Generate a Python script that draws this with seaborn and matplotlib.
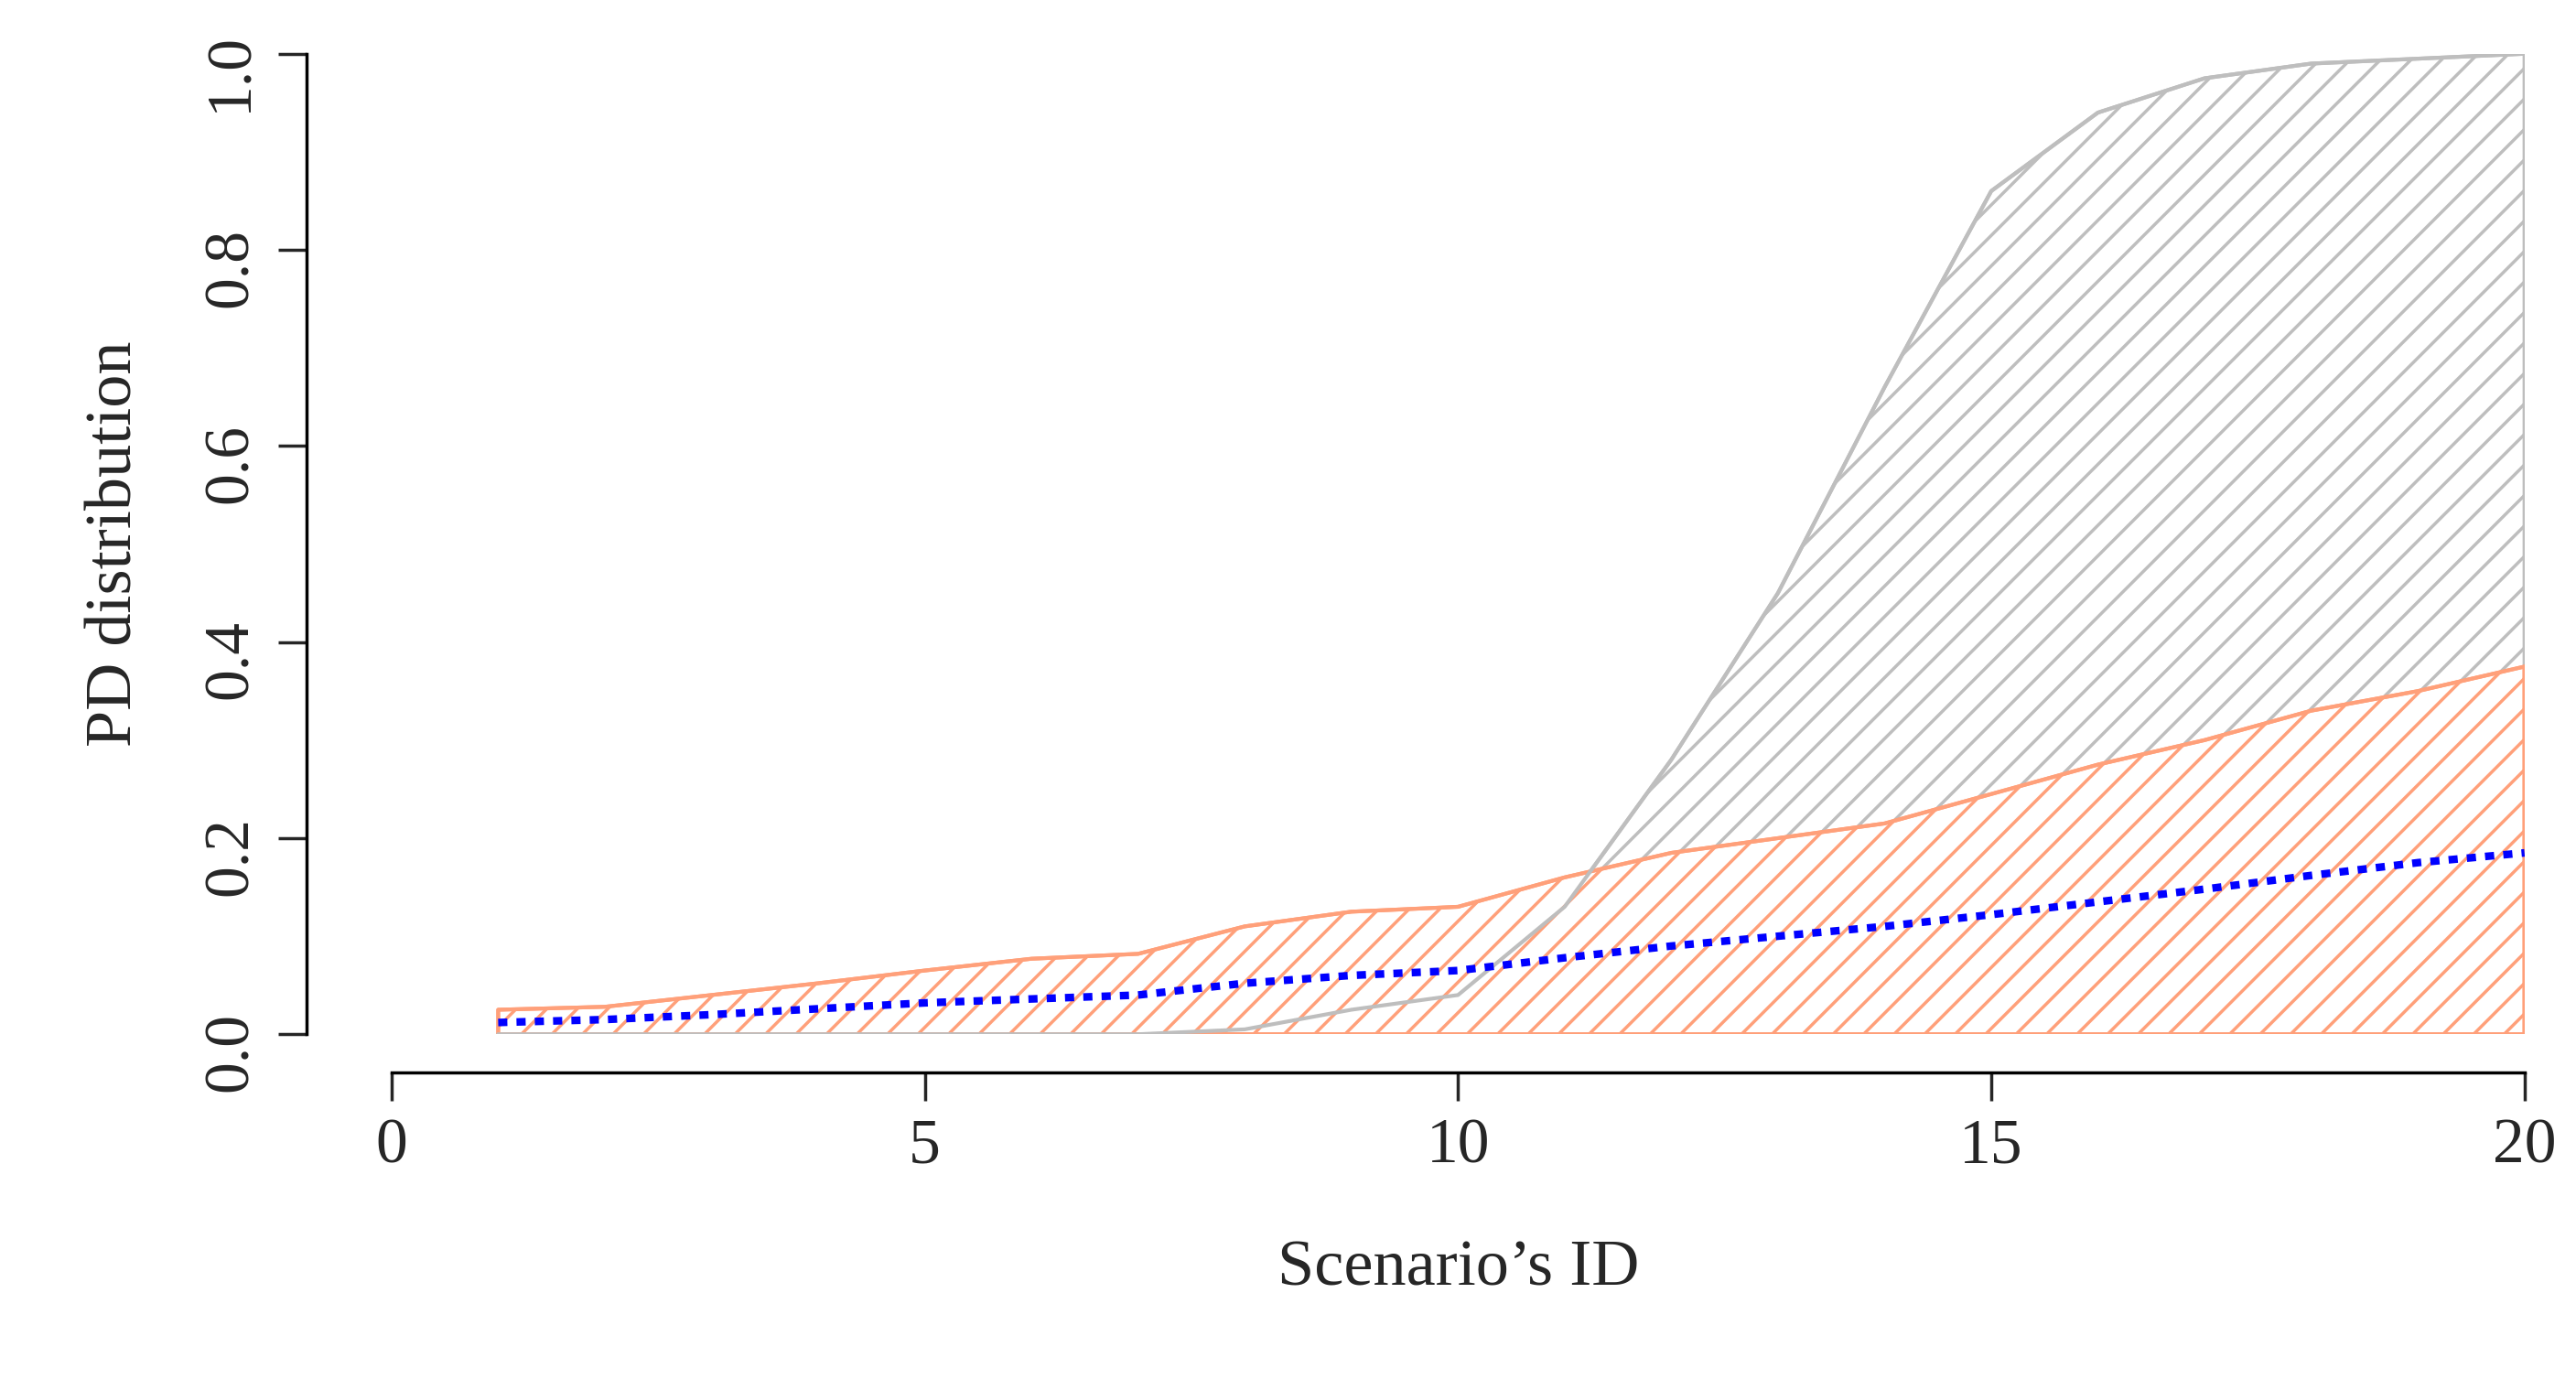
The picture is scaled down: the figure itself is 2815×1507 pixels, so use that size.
import matplotlib
matplotlib.use("Agg")
import matplotlib.pyplot as plt
import seaborn as sns
import numpy as np

scenario = list(range(1, 21))
gray_upper = [0, 0, 0, 0, 0, 0, 0, 0.005, 0.025, 0.04, 0.13, 0.28, 0.45, 0.66, 0.86, 0.94, 0.975, 0.99, 0.995, 1.0]
orange_upper = [0.025, 0.028, 0.04, 0.052, 0.065, 0.077, 0.082, 0.11, 0.125, 0.13, 0.16, 0.185, 0.2, 0.215, 0.245, 0.275, 0.3, 0.33, 0.35, 0.375]
blue_mean = [0.012, 0.015, 0.02, 0.026, 0.032, 0.036, 0.04, 0.052, 0.06, 0.065, 0.078, 0.09, 0.1, 0.11, 0.122, 0.135, 0.148, 0.162, 0.175, 0.185]

sns.set_theme(style="ticks")
plt.rcParams['font.family'] = ['Liberation Serif', 'DejaVu Serif']
plt.rcParams['hatch.linewidth'] = 2.5

fig = plt.figure(figsize=(28.15, 15.07), dpi=100)
ax = fig.add_axes([0.152, 0.25, 0.828, 0.711])
x = np.array(scenario)
gcol = '#BEBEBE'
ocol = '#FFA07A'
ax.fill_between(x, 0, gray_upper, facecolor='none', edgecolor=gcol, hatch='/', linewidth=3)
ax.fill_between(x, 0, orange_upper, facecolor='white', edgecolor=ocol, hatch='/', linewidth=3)
ax.plot(x, gray_upper, color=gcol, linewidth=3)
ax.fill_between(x, 0, orange_upper, facecolor='none', edgecolor=ocol, linewidth=3)
sns.lineplot(x=scenario, y=blue_mean, ax=ax, color='blue', linestyle=(0, (1.2, 1.2)), linewidth=6)

ax.set_xlim(0, 20)
ax.set_ylim(0, 1)
ax.set_xticks([0, 5, 10, 15, 20])
ax.set_yticks([0, 0.2, 0.4, 0.6, 0.8, 1.0])
ax.set_yticklabels(['0.0', '0.2', '0.4', '0.6', '0.8', '1.0'])
ax.tick_params(labelsize=50, width=2.5, length=22, pad=14)
ax.tick_params(axis='y', labelrotation=90)
for lab in ax.get_yticklabels():
    lab.set_va('center')
for s in ['top', 'right']:
    ax.spines[s].set_visible(False)
ax.spines['left'].set_position(('outward', 67))
ax.spines['bottom'].set_position(('outward', 30))
ax.spines['left'].set_bounds(0, 1)
ax.spines['bottom'].set_bounds(0, 20)
for s in ['left', 'bottom']:
    ax.spines[s].set_linewidth(2.5)
    ax.spines[s].set_color('black')
ax.set_xlabel("Scenario’s ID", fontsize=52, labelpad=50)
ax.set_ylabel("PD distribution", fontsize=52, labelpad=45)
fig.savefig("out.png", dpi=100)
